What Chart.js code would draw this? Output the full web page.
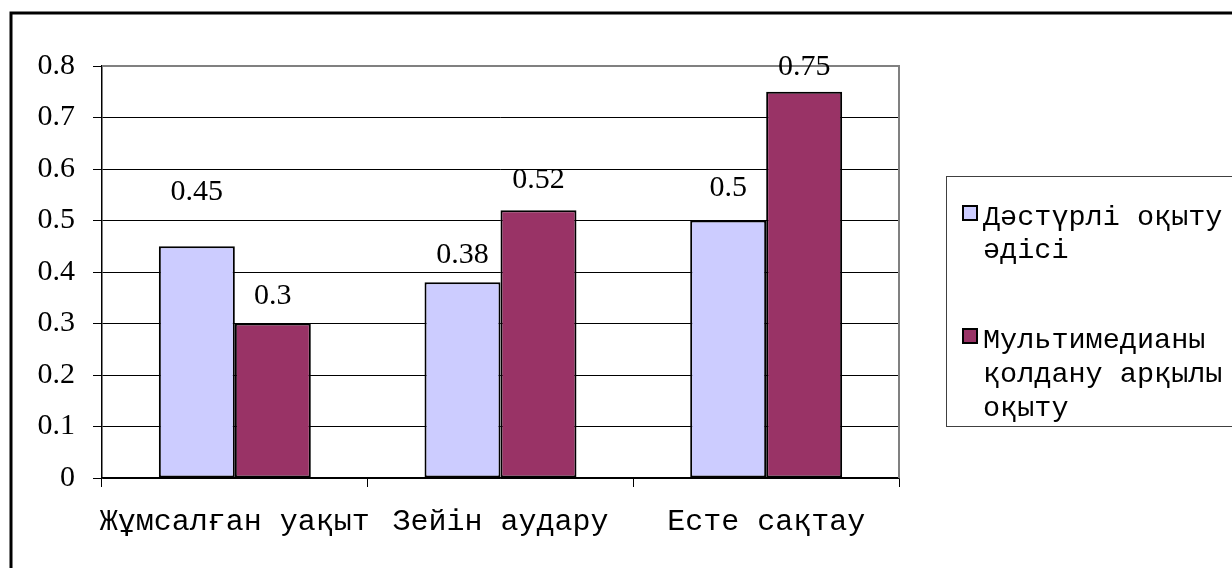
<!DOCTYPE html>
<html>
<head>
<meta charset="utf-8">
<script src="https://cdn.jsdelivr.net/npm/chart.js@4.4.0/dist/chart.umd.min.js"></script>
<style>
  body { margin: 0; background: #fff; }
  #wrap { width: 1232px; height: 568px; }
</style>
</head>
<body>
<div id="wrap"><canvas id="myCanvas" width="1232" height="568"></canvas></div>
<script>
var categories = ["Жұмсалған уақыт", "Зейін аудару", "Есте сақтау"];
var traditional = [0.45, 0.38, 0.5];
var multimedia = [0.3, 0.52, 0.75];
var seriesNames = [["Дәстүрлі оқыту", "әдісі"], ["Мультимедианы", "қолдану арқылы", "оқыту"]];
var seriesColors = ["#CCCCFF", "#993366"];
var yTicks = [0, 0.1, 0.2, 0.3, 0.4, 0.5, 0.6, 0.7, 0.8];

// how far above each bar its value sits (px)
var labelLift = [[54, 27, 32], [27, 30, 25]];

var frame = {
  id: "frame",
  beforeDatasetsDraw: function(chart) {
    var c = chart.ctx, a = chart.chartArea;
    c.save();
    c.strokeStyle = "#808080";
    c.lineWidth = 2;
    c.beginPath();
    c.moveTo(a.left, a.top);
    c.lineTo(a.right, a.top);
    c.lineTo(a.right, a.bottom);
    c.stroke();
    c.restore();
  },
  afterDraw: function(chart) {
    var c = chart.ctx;
    c.save();
    // outer chart border
    c.strokeStyle = "#000";
    c.lineWidth = 3;
    c.beginPath();
    c.moveTo(11, 568);
    c.lineTo(11, 13);
    c.lineTo(1232, 13);
    c.stroke();
    // legend box
    c.strokeStyle = "#404040";
    c.lineWidth = 1;
    c.strokeRect(946.5, 176.5, 300, 250);
    var lineY = [[217, 250], [340, 374, 408]];
    c.font = "28.5px 'Liberation Mono', 'Courier New', monospace";
    c.textBaseline = "middle";
    c.fillStyle = "#000";
    for (var i = 0; i < seriesNames.length; i++) {
      c.fillStyle = seriesColors[i];
      c.fillRect(963, lineY[i][0] - 11, 14, 14);
      c.strokeStyle = "#000";
      c.lineWidth = 2;
      c.strokeRect(963, lineY[i][0] - 11, 14, 14);
      c.fillStyle = "#000";
      for (var j = 0; j < seriesNames[i].length; j++) {
        c.fillText(seriesNames[i][j], 983, lineY[i][j]);
      }
    }
    c.restore();
  },
  afterDatasetsDraw: function(chart) {
    var c = chart.ctx;
    c.save();
    c.font = "30px 'Liberation Serif', 'Times New Roman', serif";
    c.fillStyle = "#000";
    c.textAlign = "center";
    c.textBaseline = "middle";
    chart.data.datasets.forEach(function(ds, i) {
      chart.getDatasetMeta(i).data.forEach(function(bar, j) {
        c.fillText(String(ds.data[j]), bar.x, bar.y - labelLift[i][j]);
      });
    });
    c.restore();
  }
};

var myChart = document.getElementById("myCanvas").getContext("2d");
var chart = new Chart(myChart, {
  type: "bar",
  data: {
    labels: categories,
    datasets: [
      {
        label: seriesNames[0].join(" "),
        data: traditional,
        backgroundColor: seriesColors[0],
        borderColor: "#000",
        borderWidth: 2,
        borderSkipped: false
      },
      {
        label: seriesNames[1].join(" "),
        data: multimedia,
        backgroundColor: seriesColors[1],
        borderColor: "#000",
        borderWidth: 2,
        borderSkipped: false
      }
    ]
  },
  options: {
    responsive: false,
    animation: false,
    layout: { padding: { left: 0, top: 66, right: 333, bottom: 0 } },
    datasets: { bar: { categoryPercentage: 0.572, barPercentage: 1 } },
    plugins: { legend: { display: false }, tooltip: { enabled: false } },
    scales: {
      x: {
        afterFit: function(s) { s.height = 90; },
        grid: { display: true, drawOnChartArea: false, offset: true, tickLength: 9, color: "#000" },
        border: { color: "#000", width: 1.5 },
        ticks: {
          color: "#000",
          padding: 17,
          maxRotation: 0,
          minRotation: 0,
          autoSkip: false,
          font: { family: "'Liberation Mono', 'Courier New', monospace", size: 30 }
        }
      },
      y: {
        min: 0,
        max: 0.8,
        afterFit: function(s) { s.width = 102; },
        afterBuildTicks: function(s) { s.ticks = yTicks.map(function(v) { return { value: v }; }); },
        grid: {
          color: function(ctx) { return ctx.tick && ctx.tick.value === 0.8 ? "#808080" : "#000"; },
          tickColor: "#000",
          tickLength: 9,
          lineWidth: 1
        },
        border: { color: "#000", width: 1.5 },
        ticks: {
          color: "#000",
          padding: 18,
          font: { family: "'Liberation Serif', 'Times New Roman', serif", size: 30 },
          callback: function(v) { return v === 0 ? "0" : v.toFixed(1); }
        }
      }
    }
  },
  plugins: [frame]
});
</script>
</body>
</html>
